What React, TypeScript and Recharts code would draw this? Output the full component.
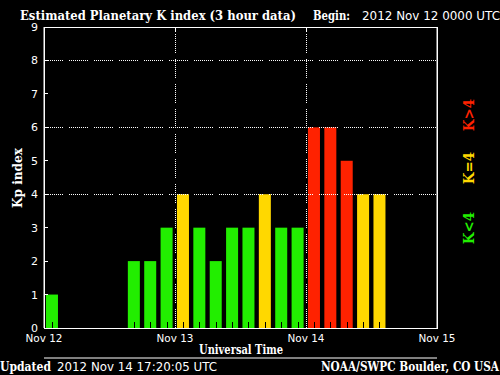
import React from "react";
import {
  BarChart,
  Bar,
  XAxis,
  YAxis,
  ReferenceLine,
  ReferenceArea,
  Cell,
} from "recharts";

// 3-hour slots, Nov 12 00 UT .. Nov 14 21 UT
const slots = [
  "12/00", "12/03", "12/06", "12/09", "12/12", "12/15", "12/18", "12/21",
  "13/00", "13/03", "13/06", "13/09", "13/12", "13/15", "13/18", "13/21",
  "14/00", "14/03", "14/06", "14/09", "14/12", "14/15", "14/18", "14/21",
];
const kpValues = [
  1, null, null, null, null, 2, 2, 3,
  4, 3, 2, 3, 3, 4, 3, 3,
  6, 6, 5, 4, 4, null, null, null,
];
const dayTicks = [0, 8, 16, 24];
const dayLabels = ["Nov 12", "Nov 13", "Nov 14", "Nov 15"];
const kpTicks = [0, 1, 2, 3, 4, 5, 6, 7, 8, 9];
const gridLevels = [4, 6, 8];

const GREEN = "#22ee00";
const YELLOW = "#ffd800";
const RED = "#ff2200";

const data = slots.map((slot, i) => ({ slot, t: i, kp: kpValues[i] }));

const kpColor = (v: number) => (v > 4 ? RED : v === 4 ? YELLOW : GREEN);

const DOTS = "1 1 1 1 1 1 1 1 1 1 1 1 1 1 1 1 1 1 1 6";
const thin = "DejaVu Sans, sans-serif";
const bold = "DejaVu Serif, serif";

const KpBar = (p: any) => {
  const { x, y, width, height, fill } = p;
  if (!height || height <= 0) return null;
  const cx = Math.round(x + width / 2) + 0.5;
  return (
    <g>
      <rect x={x} y={y} width={width} height={height} fill={fill} />
      <line x1={cx} x2={cx} y1={y + height - 6} y2={y + height} stroke="#000" />
    </g>
  );
};

const LeftTick = (p: any) => {
  const { x, y, payload } = p;
  return (
    <g>
      <text x={x - 6} y={y + 4} textAnchor="end" fill="#fff" fontSize={11} fontFamily={thin}>
        {payload.value}
      </text>
      <line x1={x} x2={x + 4} y1={y} y2={y} stroke="#fff" shapeRendering="crispEdges" />
    </g>
  );
};

const RightTick = (p: any) => {
  const { x, y } = p;
  return <line x1={x} x2={x - 4} y1={y} y2={y} stroke="#fff" shapeRendering="crispEdges" />;
};

const DayTick = (p: any) => {
  const { x, index } = p;
  return (
    <text x={x} y={342} textAnchor="middle" fill="#fff" fontSize={11} fontFamily={thin} textLength={37} lengthAdjust="spacingAndGlyphs">
      {dayLabels[index]}
    </text>
  );
};

export default function App() {
  return (
    <div style={{ position: "absolute", left: 0, top: 0, width: 500, height: 375, background: "#000" }}>
      <BarChart
        width={500}
        height={375}
        data={data}
        margin={{ top: 27, right: 0, bottom: 0, left: 0 }}
        barCategoryGap="12%"
      >
        <XAxis dataKey="slot" type="category" hide />
        <XAxis
          xAxisId="time"
          dataKey="t"
          type="number"
          domain={[0, 24]}
          allowDataOverflow
          ticks={dayTicks}
          height={47}
          tickSize={0}
          tickMargin={0}
          axisLine={{ stroke: "#fff" }}
          tickLine={false}
          tick={<DayTick />}
        />
        <YAxis
          domain={[0, 9]}
          ticks={kpTicks}
          width={44}
          tickSize={0}
          tickMargin={0}
          axisLine={{ stroke: "#fff" }}
          tickLine={false}
          tick={<LeftTick />}
        />
        <YAxis
          yAxisId="r"
          orientation="right"
          domain={[0, 9]}
          ticks={kpTicks}
          width={63}
          tickSize={0}
          tickMargin={0}
          axisLine={{ stroke: "#fff" }}
          tickLine={false}
          tick={<RightTick />}
        />
        {gridLevels.map((g) => (
          <ReferenceLine key={"h" + g} y={g} stroke="#fff" strokeDasharray={DOTS} shapeRendering="crispEdges" />
        ))}
        {[8, 16].map((d) => (
          <ReferenceLine key={"v" + d} xAxisId="time" x={d} stroke="#fff" strokeDasharray={DOTS} shapeRendering="crispEdges" />
        ))}
        {[8, 16].map((d) => (
          <ReferenceLine
            key={"s" + d}
            xAxisId="time"
            segment={[{ x: d, y: 9 }, { x: d, y: 8.85 }]}
            stroke="#fff"
            shapeRendering="crispEdges"
          />
        ))}
        <Bar dataKey="kp" isAnimationActive={false} shape={<KpBar />}>
          {data.map((d, i) => (
            <Cell key={i} fill={kpColor(d.kp ?? 0)} />
          ))}
        </Bar>
        <ReferenceArea
          xAxisId="time"
          x1={0}
          x2={24}
          y1={0}
          y2={9}
          fill="none"
          fillOpacity={0}
          stroke="#fff"
          strokeOpacity={1}
          shapeRendering="crispEdges"
        />
      </BarChart>
      <svg width={500} height={375} style={{ position: "absolute", left: 0, top: 0, pointerEvents: "none" }}>
        <text x={20} y={20} fill="#fff" fontSize={13} fontWeight="bold" fontFamily={bold} textLength={276} lengthAdjust="spacingAndGlyphs">
          Estimated Planetary K index (3 hour data)
        </text>
        <text x={313} y={20} fill="#fff" fontSize={13} fontWeight="bold" fontFamily={bold} textLength={37} lengthAdjust="spacingAndGlyphs">
          Begin:
        </text>
        <text x={362} y={20} fill="#fff" fontSize={12} fontFamily={thin} textLength={138} lengthAdjust="spacingAndGlyphs">
          2012 Nov 12 0000 UTC
        </text>
        <text
          x={0}
          y={0}
          transform="translate(22,178) rotate(-90)"
          textAnchor="middle"
          fill="#fff"
          fontSize={13}
          fontWeight="bold"
          fontFamily={bold}
          textLength={60}
          lengthAdjust="spacingAndGlyphs"
        >
          Kp index
        </text>
        <text x={199} y={354} fill="#fff" fontSize={12} fontWeight="bold" fontFamily={bold} textLength={84} lengthAdjust="spacingAndGlyphs">
          Universal Time
        </text>
        <text x={0} y={371} fill="#fff" fontSize={13} fontWeight="bold" fontFamily={bold} textLength={51} lengthAdjust="spacingAndGlyphs">
          Updated
        </text>
        <text x={57} y={371} fill="#fff" fontSize={12} fontFamily={thin} textLength={160} lengthAdjust="spacingAndGlyphs">
          2012 Nov 14 17:20:05 UTC
        </text>
        <text x={321} y={371} fill="#fff" fontSize={13} fontWeight="bold" fontFamily={bold} textLength={178} lengthAdjust="spacingAndGlyphs">
          NOAA/SWPC Boulder, CO USA
        </text>
        {[
          { label: "K>4", c: RED, cy: 115 },
          { label: "K=4", c: YELLOW, cy: 168 },
          { label: "K<4", c: GREEN, cy: 228 },
        ].map((l) => (
          <text
            key={l.label}
            x={0}
            y={0}
            transform={`translate(474,${l.cy}) rotate(-90)`}
            textAnchor="middle"
            fill={l.c}
            fontSize={15}
            fontWeight="bold"
            fontFamily={bold}
            textLength={32}
            lengthAdjust="spacingAndGlyphs"
          >
            {l.label}
          </text>
        ))}
      </svg>
    </div>
  );
}
